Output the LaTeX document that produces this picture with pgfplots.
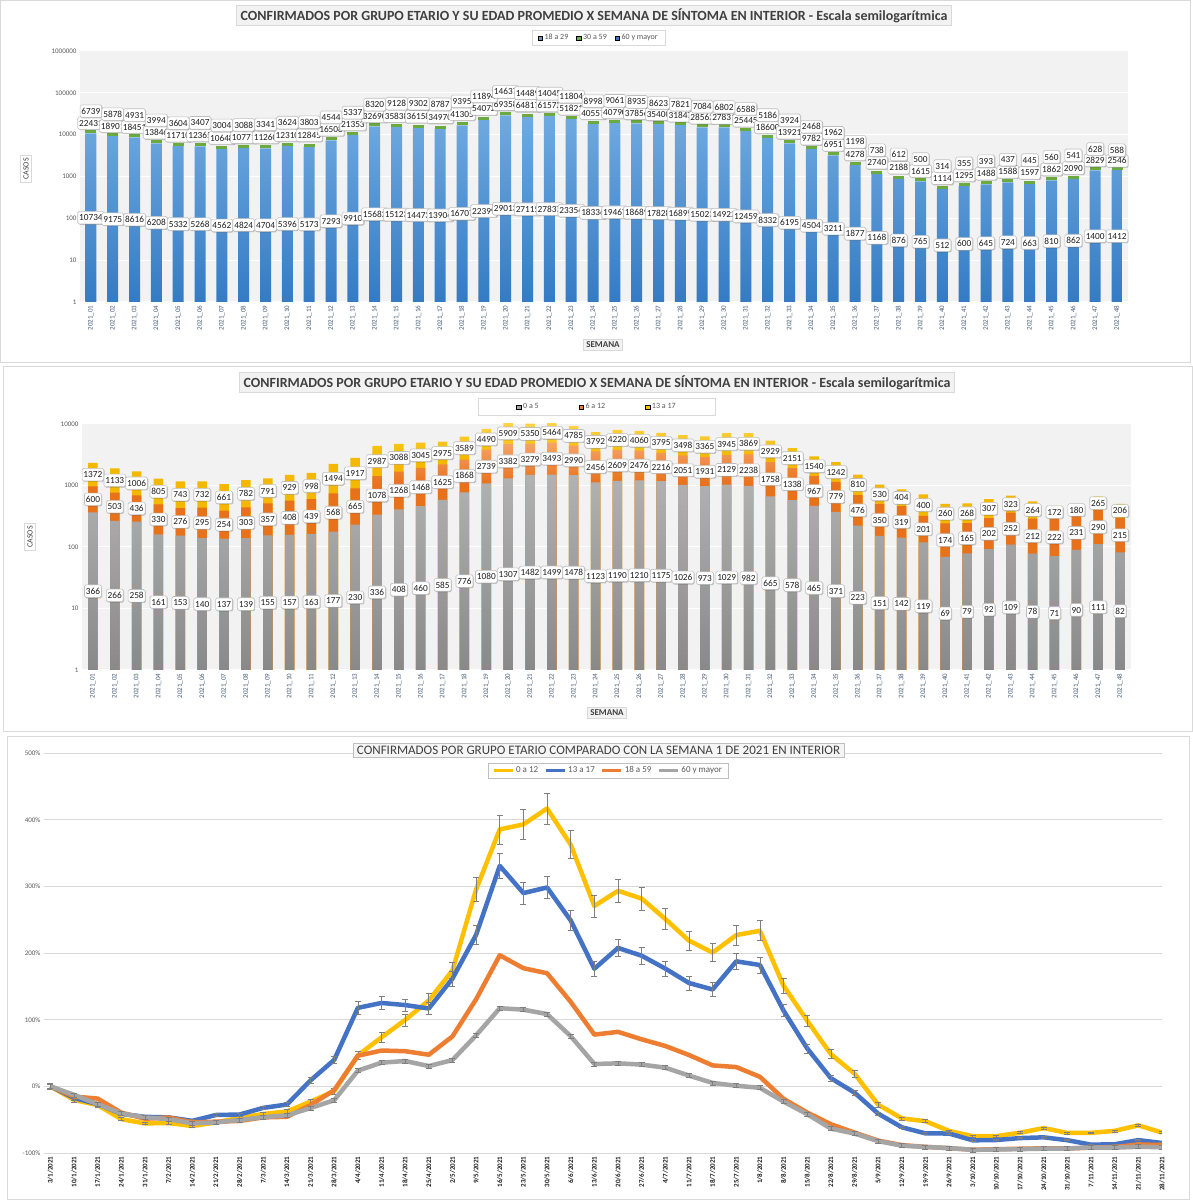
\documentclass[border=0pt]{standalone}
\usepackage{pgfplots}
\pgfplotsset{compat=1.18}
\usepackage{pgfplotstable}
\usepackage{fontspec}
\setmainfont{Carlito}
\usetikzlibrary{shadows}

\definecolor{bluetop}{HTML}{70AAE0}
\definecolor{bluebot}{HTML}{347BC4}
\definecolor{legblue}{HTML}{5B9BD5}
\definecolor{leggreen}{HTML}{70AD47}
\definecolor{legnavy}{HTML}{4472C4}
\definecolor{band}{HTML}{6AAA3E}
\definecolor{graytop}{HTML}{B2B2B2}
\definecolor{graybot}{HTML}{898989}
\definecolor{orgdk}{HTML}{E8711C}
\definecolor{orglt}{HTML}{F6A46A}
\definecolor{yeldk}{HTML}{F5B800}
\definecolor{yellt}{HTML}{FFD447}
\definecolor{plotbg}{HTML}{F2F2F2}
\definecolor{frame}{HTML}{D9D9D9}
\definecolor{ticktxt}{HTML}{595959}
\definecolor{weektxt}{HTML}{4A5D7A}
\definecolor{titletxt}{HTML}{404040}
\definecolor{labborder}{HTML}{BFBFBF}
\definecolor{labtxt}{HTML}{1F1F1F}
\definecolor{lyellow}{HTML}{FFC000}
\definecolor{lblue}{HTML}{4472C4}
\definecolor{lorange}{HTML}{ED7D31}
\definecolor{lgray}{HTML}{A5A5A5}
\definecolor{errgray}{HTML}{7F7F7F}

\pgfdeclareverticalshading{blueshade}{100bp}{color(0bp)=(bluebot); color(25bp)=(bluebot); color(75bp)=(bluetop); color(100bp)=(bluetop)}
\pgfdeclareverticalshading{grayshade}{100bp}{color(0bp)=(graybot); color(25bp)=(graybot); color(75bp)=(graytop); color(100bp)=(graytop)}
\pgfdeclareverticalshading{orgshade}{100bp}{color(0bp)=(orgdk); color(66bp)=(orgdk); color(75bp)=(orglt); color(100bp)=(orglt)}
\pgfdeclareverticalshading{yelshade}{100bp}{color(0bp)=(yeldk); color(68bp)=(yeldk); color(75bp)=(yellt); color(100bp)=(yellt)}

\tikzset{
  lab/.style={fill=white, draw=labborder, line width=0.6pt, rounded corners=1.5pt,
    inner xsep=1.4pt, inner ysep=3.2pt, text height=6.2pt, text depth=0pt,
    font=\fontsize{9.3}{9.3}\selectfont, text=labtxt, anchor=center,
    drop shadow={shadow xshift=0.8pt, shadow yshift=-0.8pt, fill=black, opacity=0.22}},
  titlebox/.style={fill=plotbg, draw=frame, line width=0.8pt, text=titletxt, inner xsep=4pt, inner ysep=3pt},
}

% semana, 18 a 29, 30 a 59, 60 y mayor
\pgfplotstableread{
x a b c
1 10734 22431 6739
2 9175 18901 5878
3 8616 18451 4931
4 6208 13846 3994
5 5332 11710 3604
6 5268 12365 3407
7 4562 10648 3004
8 4824 10771 3088
9 4704 11260 3341
10 5396 12310 3624
11 5173 12845 3803
12 7293 16508 4544
13 9910 21353 5337
14 15682 32690 8320
15 15123 35838 9128
16 14473 36158 9302
17 13904 34970 8787
18 16707 41305 9395
19 22399 54072 11894
20 29013 69358 14637
21 27115 64817 14489
22 27837 61572 14045
23 23354 51821 11804
24 18336 40557 8998
25 19467 40790 9061
26 18689 37856 8935
27 17828 35400 8623
28 16899 31847 7821
29 15023 28562 7084
30 14922 27831 6802
31 12459 25445 6588
32 8332 18600 5186
33 6195 13921 3924
34 4504 9782 2468
35 3211 6951 1962
36 1877 4278 1198
37 1168 2740 738
38 876 2188 612
39 765 1615 500
40 512 1114 314
41 600 1295 355
42 645 1488 393
43 724 1588 437
44 663 1597 445
45 810 1862 560
46 862 2090 541
47 1400 2829 628
48 1412 2546 588
}\topdata

% semana, 0 a 5, 6 a 12, 13 a 17, acumulados
\pgfplotstableread{
x d e f de def
1 366 600 1372 966 2338
2 266 503 1133 769 1902
3 258 436 1006 694 1700
4 161 330 805 491 1296
5 153 276 743 429 1172
6 140 295 732 435 1167
7 137 254 661 391 1052
8 139 303 782 442 1224
9 155 357 791 512 1303
10 157 408 929 565 1494
11 163 439 998 602 1600
12 177 568 1494 745 2239
13 230 665 1917 895 2812
14 336 1078 2987 1414 4401
15 408 1268 3088 1676 4764
16 460 1468 3045 1928 4973
17 585 1625 2975 2210 5185
18 776 1868 3589 2644 6233
19 1080 2739 4490 3819 8309
20 1307 3382 5909 4689 10598
21 1482 3279 5350 4761 10111
22 1499 3493 5464 4992 10456
23 1478 2990 4785 4468 9253
24 1123 2456 3792 3579 7371
25 1190 2609 4220 3799 8019
26 1210 2476 4060 3686 7746
27 1175 2216 3795 3391 7186
28 1026 2051 3498 3077 6575
29 973 1931 3365 2904 6269
30 1029 2129 3945 3158 7103
31 982 2238 3869 3220 7089
32 665 1758 2929 2423 5352
33 578 1338 2151 1916 4067
34 465 967 1540 1432 2972
35 371 779 1242 1150 2392
36 223 476 810 699 1509
37 151 350 530 501 1031
38 142 319 404 461 865
39 119 201 400 320 720
40 69 174 260 243 503
41 79 165 268 244 512
42 92 202 307 294 601
43 109 252 323 361 684
44 78 212 264 290 554
45 71 222 172 293 465
46 90 231 180 321 501
47 111 290 265 401 666
48 82 215 206 297 503
}\middata

% variacion % respecto de la semana 1
\pgfplotstableread{
x y12 e12 y17 e17 y59 y60
0 0 4.5 0 4.2 0 0
1 -20.4 3.6 -17.4 3.5 -15.3 -12.8
2 -28.2 3.2 -26.7 3.1 -18.4 -26.8
3 -49.2 2.3 -41.3 2.5 -39.5 -40.7
4 -55.6 2.0 -45.8 2.3 -48.6 -46.5
5 -55.0 2.0 -46.6 2.2 -46.8 -49.4
6 -59.5 1.8 -51.8 2.0 -54.1 -55.4
7 -54.2 2.1 -43.0 2.4 -53.0 -54.2
8 -47.0 2.4 -42.3 2.4 -51.9 -50.4
9 -41.5 2.6 -32.3 2.8 -46.6 -46.2
10 -37.7 2.8 -27.3 3.1 -45.7 -43.6
11 -22.9 3.5 8.9 4.6 -28.2 -32.6
12 -7.3 4.2 39.7 5.9 -5.7 -20.8
13 46.4 6.6 117.7 9.1 45.9 23.5
14 73.5 7.8 125.1 9.5 53.7 35.5
15 99.6 9.0 121.9 9.3 52.7 38.0
16 128.8 10.3 116.8 9.1 47.4 30.4
17 173.7 12.3 161.6 11.0 74.9 39.4
18 295.3 17.8 227.3 13.7 130.6 76.5
19 385.4 21.8 330.7 18.1 196.6 117.2
20 392.9 22.2 289.9 16.4 177.2 115.0
21 416.8 23.3 298.3 16.7 169.6 108.4
22 362.5 20.8 248.8 14.6 126.7 75.2
23 270.5 16.7 176.4 11.6 77.6 33.5
24 293.3 17.7 207.6 12.9 81.7 34.5
25 281.6 17.2 195.9 12.4 70.5 32.6
26 251.0 15.8 176.6 11.6 60.5 28.0
27 218.5 14.3 155.0 10.7 47.0 16.1
28 200.6 13.5 145.3 10.3 31.4 5.1
29 226.9 14.7 187.5 12.1 28.9 0.9
30 233.3 15.0 182.0 11.8 14.3 -2.2
31 150.8 11.3 113.5 9.0 -18.8 -23.0
32 98.3 8.9 56.8 6.6 -39.3 -41.8
33 48.2 6.7 12.2 4.7 -56.9 -63.4
34 19.0 5.4 -9.5 3.8 -69.4 -70.9
35 -27.6 3.3 -41.0 2.5 -81.4 -82.2
36 -48.1 2.3 -61.4 1.6 -88.2 -89.0
37 -52.3 2.1 -70.6 1.2 -90.8 -90.9
38 -66.9 1.5 -70.8 1.2 -92.8 -92.6
39 -74.8 1.1 -81.0 0.8 -95.1 -95.3
40 -74.7 1.1 -80.5 0.8 -94.3 -94.7
41 -69.6 1.4 -77.6 0.9 -93.6 -94.2
42 -62.6 1.7 -76.5 1.0 -93.0 -93.5
43 -70.0 1.4 -80.8 0.8 -93.2 -93.4
44 -69.7 1.4 -87.5 0.5 -91.9 -91.7
45 -66.8 1.5 -86.9 0.6 -91.1 -92.0
46 -58.5 1.9 -80.7 0.8 -87.2 -90.7
47 -69.3 1.4 -85.0 0.6 -88.1 -91.3
}\botdata

\begin{document}
\begin{tikzpicture}[x=1pt,y=1pt]
\path[use as bounding box] (0,0) rectangle (1193,1200);
\fill[white] (0,0) rectangle (1193,1200);
% marcos de los tres paneles
\draw[frame, line width=1pt] (0.5,837) rectangle (1190,1199.5);
\draw[frame, line width=1pt] (3,468) rectangle (1192.5,833);
\draw[frame, line width=1pt] (7.5,0.5) rectangle (1189,463);

% ---------- panel 1: 18 a 29 / 30 a 59 / 60 y mayor ----------
\begin{axis}[
  at={(80pt,898pt)}, anchor=south west,
  scale only axis, width=1048pt, height=251pt,
  xmin=0.5, xmax=48.5,
  ymode=log, ymin=1, ymax=1000000,
  axis background/.style={fill=plotbg},
  axis line style={draw=none}, tick style={draw=none},
  ymajorgrids, major grid style={draw=white, line width=1pt},
  ytick={1,10,100,1000,10000,100000,1000000},
  yticklabels={1,10,100,1000,10000,100000,1000000},
  yticklabel style={font=\fontsize{7}{7}\selectfont, text=ticktxt},
  xtick={1,...,48},
  xticklabels={2021\_01,2021\_02,2021\_03,2021\_04,2021\_05,2021\_06,2021\_07,2021\_08,2021\_09,2021\_10,2021\_11,2021\_12,2021\_13,2021\_14,2021\_15,2021\_16,2021\_17,2021\_18,2021\_19,2021\_20,2021\_21,2021\_22,2021\_23,2021\_24,2021\_25,2021\_26,2021\_27,2021\_28,2021\_29,2021\_30,2021\_31,2021\_32,2021\_33,2021\_34,2021\_35,2021\_36,2021\_37,2021\_38,2021\_39,2021\_40,2021\_41,2021\_42,2021\_43,2021\_44,2021\_45,2021\_46,2021\_47,2021\_48},
  xticklabel style={rotate=90, anchor=east, font=\fontsize{7}{7}\selectfont, text=weektxt},
  legend style={at={(axis description cs:0.495,1.052)}, anchor=center, draw=frame, fill=white,
    font=\fontsize{8}{8}\selectfont, text=ticktxt, legend columns=-1,
    /tikz/every even column/.append style={column sep=6pt}, inner xsep=6pt, inner ysep=2pt},
  legend image code/.code={\fill[#1] (0pt,-2.2pt) rectangle (4.4pt,2.2pt);},
]
\addlegendimage{fill=legblue}\addlegendentry{18 a 29}
\addlegendimage{fill=leggreen}\addlegendentry{30 a 59}
\addlegendimage{fill=legnavy}\addlegendentry{60 y mayor}
\addplot[ybar, bar width=11pt, bar shift=0pt, draw=none, shade, shading=blueshade, forget plot]
  table[x=x, y=a]{\topdata};
\addplot[only marks, mark=-, mark size=5.5pt, mark options={draw=band, line width=3pt, yshift=1.5pt}, forget plot]
  table[x=x, y=a]{\topdata};
\addplot[draw=none, nodes near coords, point meta=explicit symbolic,
  every node near coord/.append style={lab}, forget plot]
  table[x=x, y expr={sqrt(\thisrow{a})}, meta=a]{\topdata};
\addplot[draw=none, nodes near coords, point meta=explicit symbolic,
  every node near coord/.append style={lab}, forget plot]
  table[x=x, y expr={sqrt(\thisrow{a})*sqrt(\thisrow{a}+\thisrow{b})}, meta=b]{\topdata};
\addplot[draw=none, nodes near coords, point meta=explicit symbolic,
  every node near coord/.append style={lab}, forget plot]
  table[x=x, y expr={sqrt(\thisrow{a}+\thisrow{b})*sqrt(\thisrow{a}+\thisrow{b}+\thisrow{c})}, meta=c]{\topdata};
\end{axis}

% ---------- panel 2: 0 a 5 / 6 a 12 / 13 a 17 ----------
\begin{axis}[
  at={(82pt,530pt)}, anchor=south west,
  scale only axis, width=1049pt, height=246pt,
  xmin=0.5, xmax=48.5,
  ymode=log, ymin=1, ymax=10000,
  axis background/.style={fill=plotbg},
  axis line style={draw=none}, tick style={draw=none},
  ymajorgrids, major grid style={draw=white, line width=1pt},
  ytick={1,10,100,1000,10000},
  yticklabels={1,10,100,1000,10000},
  yticklabel style={font=\fontsize{7}{7}\selectfont, text=ticktxt},
  xtick={1,...,48},
  xticklabels={2021\_01,2021\_02,2021\_03,2021\_04,2021\_05,2021\_06,2021\_07,2021\_08,2021\_09,2021\_10,2021\_11,2021\_12,2021\_13,2021\_14,2021\_15,2021\_16,2021\_17,2021\_18,2021\_19,2021\_20,2021\_21,2021\_22,2021\_23,2021\_24,2021\_25,2021\_26,2021\_27,2021\_28,2021\_29,2021\_30,2021\_31,2021\_32,2021\_33,2021\_34,2021\_35,2021\_36,2021\_37,2021\_38,2021\_39,2021\_40,2021\_41,2021\_42,2021\_43,2021\_44,2021\_45,2021\_46,2021\_47,2021\_48},
  xticklabel style={rotate=90, anchor=east, font=\fontsize{7}{7}\selectfont, text=weektxt},
  legend style={at={(axis description cs:0.491,1.069)}, anchor=center, draw=frame, fill=white,
    font=\fontsize{8}{8}\selectfont, text=ticktxt, legend columns=-1,
    /tikz/every even column/.append style={column sep=38pt}, inner xsep=38pt, inner ysep=3pt},
  legend image code/.code={\fill[#1] (0pt,-2.2pt) rectangle (4.4pt,2.2pt);},
]
\addlegendimage{fill=lgray}\addlegendentry{0 a 5}
\addlegendimage{fill=lorange}\addlegendentry{6 a 12}
\addlegendimage{fill=lyellow}\addlegendentry{13 a 17}
\addplot[ybar, bar width=9.5pt, bar shift=0pt, draw=none, shade, shading=yelshade, forget plot]
  table[x=x, y=def]{\middata};
\addplot[ybar, bar width=9.5pt, bar shift=0pt, draw=none, shade, shading=orgshade, forget plot]
  table[x=x, y=de]{\middata};
\addplot[ybar, bar width=9.5pt, bar shift=0pt, draw=none, shade, shading=grayshade, forget plot]
  table[x=x, y=d]{\middata};
\addplot[draw=none, nodes near coords, point meta=explicit symbolic,
  every node near coord/.append style={lab}, forget plot]
  table[x=x, y expr={sqrt(\thisrow{d})}, meta=d]{\middata};
\addplot[draw=none, nodes near coords, point meta=explicit symbolic,
  every node near coord/.append style={lab}, forget plot]
  table[x=x, y expr={sqrt(\thisrow{d})*sqrt(\thisrow{de})}, meta=e]{\middata};
\addplot[draw=none, nodes near coords, point meta=explicit symbolic,
  every node near coord/.append style={lab}, forget plot]
  table[x=x, y expr={sqrt(\thisrow{de})*sqrt(\thisrow{def})}, meta=f]{\middata};
\end{axis}

% ---------- panel 3: comparacion con la semana 1 ----------
\begin{axis}[
  at={(44pt,47pt)}, anchor=south west,
  scale only axis, width=1118pt, height=400pt,
  xmin=-0.27, xmax=47, ymin=-100, ymax=500,
  axis line style={draw=none}, tick style={draw=none},
  ymajorgrids, major grid style={draw=frame, line width=0.8pt},
  ytick={-100,0,100,200,300,400,500},
  yticklabels={-100\%,0\%,100\%,200\%,300\%,400\%,500\%},
  yticklabel style={font=\fontsize{7}{7}\selectfont, text=ticktxt},
  xtick={0,...,47},
  xticklabels={3/1/2021,10/1/2021,17/1/2021,24/1/2021,31/1/2021,7/2/2021,14/2/2021,21/2/2021,28/2/2021,7/3/2021,14/3/2021,21/3/2021,28/3/2021,4/4/2021,11/4/2021,18/4/2021,25/4/2021,2/5/2021,9/5/2021,16/5/2021,23/5/2021,30/5/2021,6/6/2021,13/6/2021,20/6/2021,27/6/2021,4/7/2021,11/7/2021,18/7/2021,25/7/2021,1/8/2021,8/8/2021,15/8/2021,22/8/2021,29/8/2021,5/9/2021,12/9/2021,19/9/2021,26/9/2021,3/10/2021,10/10/2021,17/10/2021,24/10/2021,31/10/2021,7/11/2021,14/11/2021,21/11/2021,28/11/2021},
  xticklabel style={rotate=90, anchor=east, font=\bfseries\fontsize{7}{7}\selectfont, text=labtxt},
  legend style={at={(axis description cs:0.5045,0.956)}, anchor=center, draw=labborder, fill=white,
    font=\fontsize{9}{9}\selectfont, text=ticktxt, legend columns=-1,
    /tikz/every even column/.append style={column sep=4pt}, inner xsep=4pt, inner ysep=2pt},
  legend image code/.code={\draw[#1, line width=3pt] (0pt,0pt) -- (19pt,0pt);},
]
\addlegendimage{lyellow}\addlegendentry{0 a 12}
\addlegendimage{lblue}\addlegendentry{13 a 17}
\addlegendimage{lorange}\addlegendentry{18 a 59}
\addlegendimage{lgray}\addlegendentry{60 y mayor}
\addplot[lyellow, line width=4.5pt, line join=round, forget plot,
  error bars/.cd, y dir=both, y explicit,
  error bar style={errgray, line width=0.7pt},
  error mark options={rotate=90, errgray, mark size=3pt, line width=0.7pt}]
  table[x=x, y=y12, y error=e12]{\botdata};
\addplot[lblue, line width=4.5pt, line join=round, forget plot,
  error bars/.cd, y dir=both, y explicit,
  error bar style={errgray, line width=0.7pt},
  error mark options={rotate=90, errgray, mark size=3pt, line width=0.7pt}]
  table[x=x, y=y17, y error=e17]{\botdata};
\addplot[lorange, line width=4.5pt, line join=round, forget plot]
  table[x=x, y=y59]{\botdata};
\addplot[lgray, line width=4.5pt, line join=round, forget plot,
  error bars/.cd, y dir=both, y fixed=3,
  error bar style={errgray, line width=0.7pt},
  error mark options={rotate=90, errgray, mark size=3pt, line width=0.7pt}]
  table[x=x, y=y60]{\botdata};
\end{axis}

% titulos y rotulos de ejes
\node[titlebox, font=\bfseries\fontsize{14}{14}\selectfont] at (594,1184.5)
  {CONFIRMADOS POR GRUPO ETARIO Y SU EDAD PROMEDIO X SEMANA DE SÍNTOMA EN INTERIOR - Escala semilogarítmica};
\node[titlebox, font=\bfseries\fontsize{14}{14}\selectfont] at (597,817.5)
  {CONFIRMADOS POR GRUPO ETARIO Y SU EDAD PROMEDIO X SEMANA DE SÍNTOMA EN INTERIOR - Escala semilogarítmica};
\node[titlebox, fill=white!96!black, draw=labborder, font=\fontsize{13}{13}\selectfont] at (598.5,449.5)
  {CONFIRMADOS POR GRUPO ETARIO COMPARADO CON LA SEMANA 1 DE 2021 EN INTERIOR};
\node[titlebox, fill=white, rotate=90, font=\fontsize{8}{8}\selectfont, inner sep=2.5pt] at (26,1031) {CASOS};
\node[titlebox, fill=white, rotate=90, font=\fontsize{8}{8}\selectfont, inner sep=2.5pt] at (30,663) {CASOS};
\node[titlebox, font=\bfseries\fontsize{9}{9}\selectfont, inner sep=2.5pt] at (603,855.5) {SEMANA};
\node[titlebox, font=\bfseries\fontsize{9}{9}\selectfont, inner sep=2.5pt] at (607,487) {SEMANA};
\end{tikzpicture}
\end{document}
